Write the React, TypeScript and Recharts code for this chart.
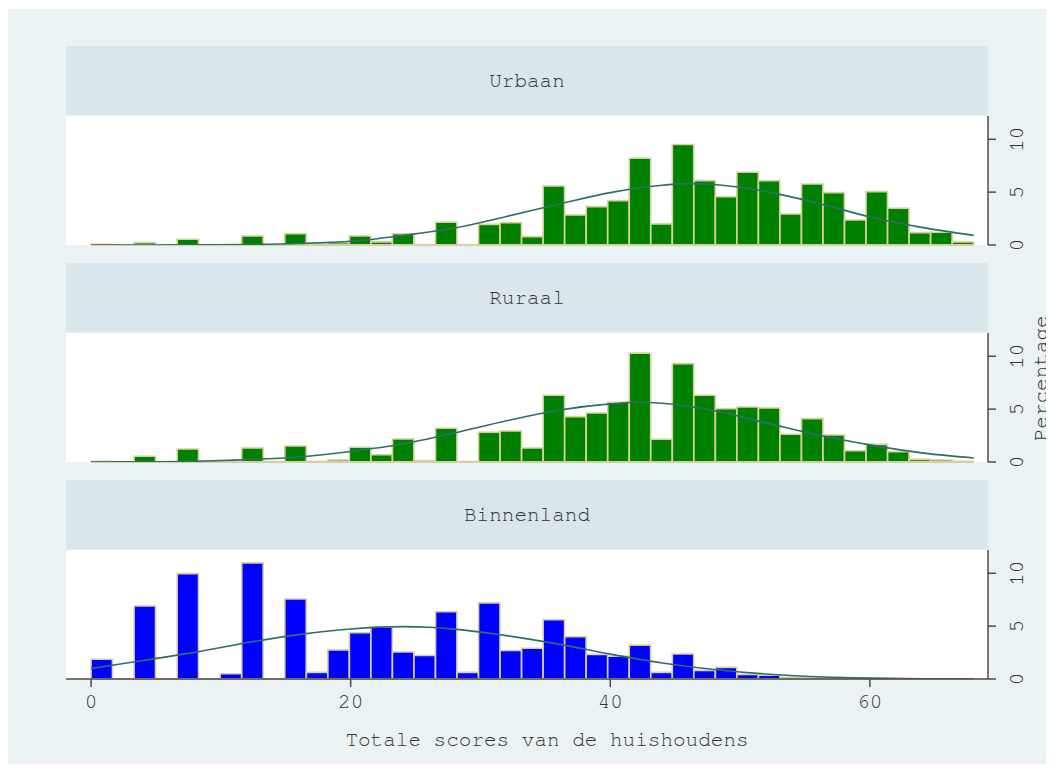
import React from 'react';
import { ComposedChart, Bar, Line, XAxis, YAxis, CartesianGrid, ReferenceLine } from 'recharts';

// Histogram bin midpoints (41 bins between 0 and 68)
const BIN_MIDS = [
  0.829, 2.488, 4.146, 5.805, 7.463, 9.122, 10.78, 12.439, 14.098, 15.756,
  17.415, 19.073, 20.732, 22.39, 24.049, 25.707, 27.366, 29.024, 30.683, 32.341,
  34.0, 35.659, 37.317, 38.976, 40.634, 42.293, 43.951, 45.61, 47.268, 48.927,
  50.585, 52.244, 53.902, 55.561, 57.22, 58.878, 60.537, 62.195, 63.854, 65.512,
  67.171,
];
const HIST_RANGE = [0, 68];

const URBAAN = [
  0.07, 0, 0.22, 0, 0.54, 0, 0, 0.85, 0, 1.07,
  0.18, 0.22, 0.85, 0.3, 1.07, 0, 2.15, 0, 1.95, 2.1,
  0.79, 5.58, 2.84, 3.63, 4.2, 8.2, 2.0, 9.5, 6.09, 4.57,
  6.88, 6.09, 2.93, 5.77, 4.95, 2.37, 5.05, 3.47, 1.17, 1.2,
  0.28,
];

const RURAAL = [
  0.06, 0, 0.54, 0, 1.23, 0, 0.05, 1.33, 0.05, 1.51,
  0.05, 0.19, 1.39, 0.69, 2.18, 0.13, 3.19, 0.05, 2.81, 2.93,
  1.33, 6.31, 4.29, 4.64, 5.65, 10.3, 2.15, 9.3, 6.31, 5.05,
  5.2, 5.1, 2.62, 4.1, 2.56, 1.07, 1.67, 0.98, 0.25, 0.19,
  0.06,
];

const BINNENLAND = [
  1.87, 0, 6.9, 0, 9.97, 0, 0.5, 10.98, 0, 7.56,
  0.63, 2.75, 4.37, 4.9, 2.56, 2.22, 6.36, 0.63, 7.2, 2.69,
  2.91, 5.6, 3.99, 2.31, 2.15, 3.2, 0.63, 2.37, 0.82, 1.1,
  0.44, 0.35, 0.15, 0.1, 0.15, 0.05, 0.05, 0, 0, 0,
  0,
];

// Normal density overlay
const CURVE_X_URBAAN = [0, 4, 8, 12, 16, 20, 24, 28, 32, 36, 40, 44, 46, 48, 52, 56, 60, 64, 68];
const CURVE_URBAAN = [0, 0, 0.02, 0.05, 0.14, 0.35, 0.9, 1.6, 2.7, 3.85, 4.95, 5.65, 5.8, 5.72, 5.05, 3.95, 2.65, 1.67, 0.91];

const CURVE_X_RURAAL = [0, 4, 8, 12, 16, 20, 24, 28, 32, 36, 40, 42, 44, 48, 52, 56, 60, 64, 68];
const CURVE_RURAAL = [0, 0.02, 0.07, 0.22, 0.48, 1.0, 1.7, 2.75, 3.9, 4.9, 5.5, 5.65, 5.55, 4.85, 3.7, 2.55, 1.62, 0.86, 0.38];

const CURVE_X_BINNENLAND = [0, 4, 8, 12, 16, 20, 24, 26, 28, 32, 36, 40, 44, 48, 52, 56, 60, 64, 68];
const CURVE_BINNENLAND = [0.98, 1.75, 2.52, 3.43, 4.2, 4.73, 4.95, 4.9, 4.72, 4.1, 3.3, 2.35, 1.52, 0.9, 0.47, 0.21, 0.08, 0.03, 0];

const PANEL_TITLES = ['Urbaan', 'Ruraal', 'Binnenland'];
const X_TICKS = [0, 20, 40, 60];
const Y_TICKS = [0, 5, 10];
const X_TITLE = 'Totale scores van de huishoudens';
const Y_TITLE = 'Percentage';

const FONT = '"Nimbus Mono PS", "FreeMono", "Courier New", "Liberation Mono", monospace';
const TEXT = '#333333';
const AXIS = '#4d4d4d';
const OUTLINE = '#d8cf9f';

const PANELS = [
  { title: PANEL_TITLES[0], values: URBAAN, fill: '#008000', cx: CURVE_X_URBAAN, cy: CURVE_URBAAN },
  { title: PANEL_TITLES[1], values: RURAAL, fill: '#008000', cx: CURVE_X_RURAAL, cy: CURVE_RURAAL },
  { title: PANEL_TITLES[2], values: BINNENLAND, fill: '#0000ff', cx: CURVE_X_BINNENLAND, cy: CURVE_BINNENLAND },
];

const YTick = (props: any) => {
  const { x, y, payload } = props;
  const tx = x + 25;
  return (
    <text
      x={tx}
      y={y}
      transform={`rotate(-90 ${tx} ${y})`}
      textAnchor="middle"
      fontSize={21}
      fontFamily={FONT}
      fill={TEXT}
    >
      {payload.value}
    </text>
  );
};

const PITCH = 217;
const PLOT_H = 129;

export default function App() {
  return (
    <div style={{ position: 'relative', width: 1038, height: 756, fontFamily: FONT }}>
      <style>{`.recharts-surface { overflow: visible; } .recharts-wrapper { overflow: visible; }`}</style>
      <div style={{ position: 'absolute', left: 0, top: 1, width: 1038, height: 755, background: '#eaf2f3' }} />
      {PANELS.map((p, k) => {
        const last = k === PANELS.length - 1;
        const barData = BIN_MIDS.map((x, i) => ({ x, v: p.values[i] }));
        const lineData = p.cx.map((x, i) => ({ x, y: p.cy[i] }));
        return (
          <React.Fragment key={p.title}>
            <div
              style={{
                position: 'absolute',
                left: 58,
                top: 38 + PITCH * k,
                width: 922,
                height: 70,
                background: '#d9e6eb',
                textAlign: 'center',
                lineHeight: '70px',
                fontSize: 21,
                color: TEXT,
                whiteSpace: 'nowrap',
              }}
            >
              {p.title}
            </div>
            <div style={{ position: 'absolute', left: 58, top: 108 + PITCH * k }}>
              <ComposedChart
                width={980}
                height={PLOT_H + (last ? 90 : 0)}
                data={barData}
                margin={{ top: 0, right: 0, bottom: 0, left: 0 }}
                barCategoryGap={0}
                barGap={0}
              >
                <rect x={0} y={0} width={922} height={PLOT_H} fill="#ffffff" />
                <CartesianGrid vertical={false} stroke="#eaf2f3" strokeWidth={1.5} />
                <XAxis
                  xAxisId={0}
                  dataKey="x"
                  type="number"
                  domain={[-1.93, 69.1]}
                  ticks={X_TICKS}
                  interval={0}
                  hide={!last}
                  height={90}
                  tickSize={8}
                  tickMargin={6}
                  axisLine={{ stroke: AXIS, strokeWidth: 1.5 }}
                  tickLine={{ stroke: AXIS, strokeWidth: 1.5 }}
                  tick={{ fontSize: 21, fontFamily: FONT, fill: TEXT }}
                  label={{ value: X_TITLE, position: 'insideBottom', offset: 23, dx: 20, fontSize: 21, fontFamily: FONT, fill: TEXT }}
                />
                <XAxis xAxisId="c" dataKey="x" type="number" domain={[-1.93, 69.1]} hide />
                <YAxis
                  orientation="right"
                  type="number"
                  domain={[0, 12.2]}
                  ticks={Y_TICKS}
                  interval={0}
                  width={58}
                  tickSize={8}
                  tickMargin={2}
                  axisLine={{ stroke: AXIS, strokeWidth: 1.5 }}
                  tickLine={{ stroke: AXIS, strokeWidth: 1.5 }}
                  tick={<YTick />}
                  allowDataOverflow
                />
                <ReferenceLine
                  xAxisId={0}
                  segment={[{ x: HIST_RANGE[0], y: 0 }, { x: HIST_RANGE[1], y: 0 }]}
                  stroke={OUTLINE}
                  strokeWidth={2}
                />
                <Bar
                  dataKey="v"
                  xAxisId={0}
                  fill={p.fill}
                  stroke={OUTLINE}
                  strokeWidth={1.6}
                  barSize={21.4}
                  isAnimationActive={false}
                />
                <Line
                  data={lineData}
                  xAxisId="c"
                  dataKey="y"
                  type="monotone"
                  stroke="#2b6e6a"
                  strokeWidth={1.6}
                  dot={false}
                  activeDot={false}
                  isAnimationActive={false}
                />
              </ComposedChart>
            </div>
          </React.Fragment>
        );
      })}
      <svg
        width={44}
        height={170}
        style={{ position: 'absolute', left: 1000, top: 290, overflow: 'visible' }}
      >
        <text
          x={39.3}
          y={80.3}
          transform="rotate(-90 39.3 80.3)"
          textAnchor="middle"
          fontSize={21}
          fontFamily={FONT}
          fill={TEXT}
        >
          {Y_TITLE}
        </text>
      </svg>
    </div>
  );
}
